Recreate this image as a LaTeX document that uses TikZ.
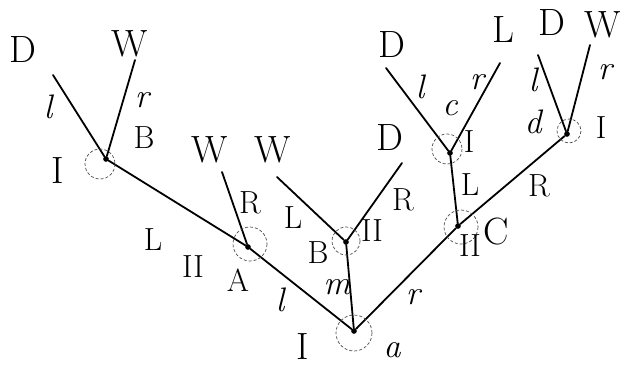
\documentclass[tikz,border=0pt]{standalone}
\begin{document}
\begin{tikzpicture}[x=1pt,y=-1pt,
  edge/.style={line width=1.8pt,line cap=round},
  ring/.style={densely dashed,line width=0.7pt,black!70},
  dot/.style={circle,fill,inner sep=2pt},
  big/.style={font=\fontsize{38}{38}\selectfont},
  mid/.style={font=\fontsize{32}{32}\selectfont},
  sm/.style={font=\fontsize{34}{34}\selectfont\itshape}]
\useasboundingbox (0,0) rectangle (621,369);
% internal nodes
\node[dot] (root) at (354,331) {};
\node[dot] (A) at (248,247) {};
\node[dot] (b) at (106,159) {};
\node[dot] (B) at (346,242) {};
\node[dot] (C) at (458,226) {};
\node[dot] (c) at (450,153) {};
\node[dot] (d) at (567,134) {};
% leaf end points
\coordinate (bl) at (53,75);
\coordinate (br) at (135,60);
\coordinate (Ar) at (222,172);
\coordinate (BL) at (277,177);
\coordinate (BR) at (402,163);
\coordinate (cl) at (386,68);
\coordinate (cr) at (500,63);
\coordinate (dl) at (538,55);
\coordinate (dr) at (590,45);
% edges
\draw[edge] (root) -- (A);
\draw[edge] (A) -- (b);
\draw[edge] (A) -- (Ar);
\draw[edge] (b) -- (bl);
\draw[edge] (b) -- (br);
\draw[edge] (root) -- (B);
\draw[edge] (B) -- (BL);
\draw[edge] (B) -- (BR);
\draw[edge] (root) -- (C);
\draw[edge] (C) -- (c);
\draw[edge] (C) -- (d);
\draw[edge] (c) -- (cl);
\draw[edge] (c) -- (cr);
\draw[edge] (d) -- (dl);
\draw[edge] (d) -- (dr);
% dashed rings
\draw[ring] (root) ++(0,2) circle (18);
\draw[ring] (A) ++(2,-3) circle (17);
\draw[ring] (b) ++(-6,5) circle (15);
\draw[ring] (B) ++(0,-1) circle (14);
\draw[ring] (C) ++(3,1) circle (17);
\draw[ring] (c) ++(-3,-4) circle (15);
\draw[ring] (d) ++(2,-3) circle (12);
% leaf labels
\node[big] (t1) at (23,50) {D};
\node[big] (t2) at (130,44) {W};
\node[big] (t3) at (210,150) {W};
\node[big] (t4) at (273,150) {W};
\node[big] (t5) at (390,138) {D};
\node[big] (t6) at (392,45) {D};
\node[big] (t7) at (503,30) {L};
\node[big] (t8) at (552,23) {D};
\node[big] (t9) at (603,25) {W};
% node labels
\node[big] (n1) at (58,171) {I};
\node[big] (n2) at (303,347) {I};
\node[mid] (n3) at (193,267) {II};
\node[mid] (n4) at (372,231) {II};
\node[mid] (n5) at (470,246) {II};
\node[mid] (n6) at (469,142) {I};
\node[mid] (n7) at (601,128) {I};
% node names
\node[sm] (m1) at (392,350) {a};
\node[mid] (m2) at (238,280) {A};
\node[mid] (m3) at (144,138) {B};
\node[mid] (m4) at (318,253) {B};
\node[big] (m5) at (496,232) {C};
\node[sm] (m6) at (450,108) {c};
\node[sm] (m7) at (533,122) {d};
% edge labels
\node[sm] (e1) at (48,107) {l};
\node[sm] (e2) at (142,100) {r};
\node[mid] (e3) at (153,240) {L};
\node[mid] (e4) at (250,203) {R};
\node[sm] (e5) at (280,300) {l};
\node[mid] (e6) at (293,218) {L};
\node[mid] (e7) at (403,200) {R};
\node[sm] (e8) at (337,287) {m};
\node[sm] (e9) at (413,297) {r};
\node[mid] (e10) at (470,185) {L};
\node[mid] (e11) at (539,186) {R};
\node[sm] (e12) at (420,87) {l};
\node[sm] (e13) at (477,82) {r};
\node[sm] (e14) at (533,80) {l};
\node[sm] (e15) at (605,72) {r};
\end{tikzpicture}
\end{document}
